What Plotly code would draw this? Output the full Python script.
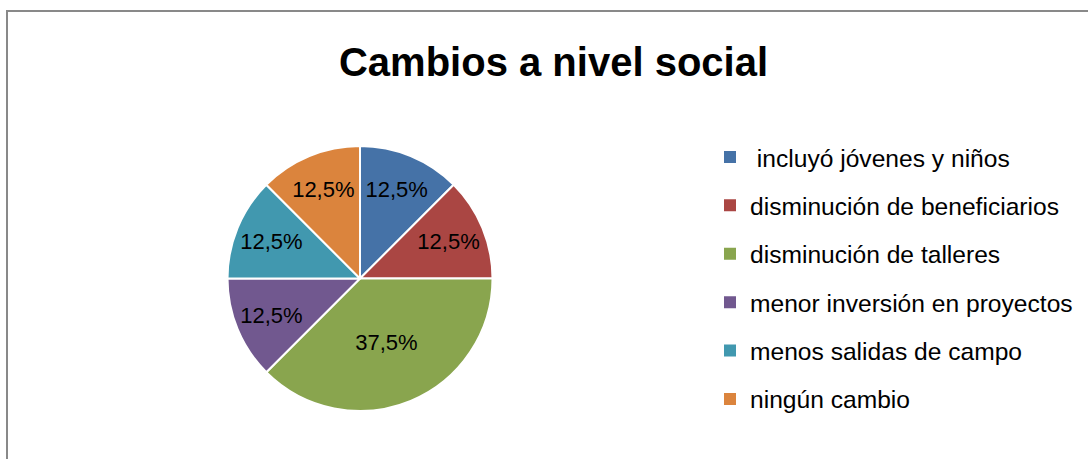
import plotly.graph_objects as go

categories = [" incluyó jóvenes y niños", "disminución de beneficiarios", "disminución de talleres",
              "menor inversión en proyectos", "menos salidas de campo", "ningún cambio"]
values = [12.5, 12.5, 37.5, 12.5, 12.5, 12.5]
colors = ["#4572A7", "#AA4643", "#89A54E", "#71588F", "#4198AF", "#DB843D"]
title_text = "Cambios a nivel social"

W, H = 1088, 459
FONT = "Liberation Sans, Arial, sans-serif"

fig = go.Figure()
fig.add_trace(go.Pie(
    labels=categories, values=values, sort=False, direction="clockwise", rotation=0,
    marker=dict(colors=colors, line=dict(color="white", width=2)),
    texttemplate="%{percent:.1%}", textposition="inside", insidetextorientation="horizontal",
    textfont=dict(family=FONT, size=22, color="black"),
    showlegend=False, hoverinfo="label+percent",
    domain=dict(x=[227 / W, 493 / W], y=[48 / H, 313 / H]),
))

for i, (cat, col) in enumerate(zip(categories, colors)):
    fig.add_trace(go.Scatter(
        x=[None], y=[None], mode="markers", name=cat, legendgroup="g%d" % i,
        marker=dict(symbol="square", size=12, color=col), showlegend=True,
    ))

fig.update_layout(
    width=W, height=H, margin=dict(l=0, r=0, t=0, b=0),
    paper_bgcolor="white", plot_bgcolor="white",
    separators=",.",
    title=dict(text="<b>%s</b>" % title_text, x=553.5 / W, xanchor="center",
               y=1 - 62 / H, yanchor="middle",
               font=dict(family=FONT, size=40, color="black")),
    xaxis=dict(visible=False), yaxis=dict(visible=False),
    legend=dict(x=710 / W, xanchor="left", y=1 - 278 / H, yanchor="middle",
                font=dict(family=FONT, size=24.6, color="black"),
                tracegroupgap=13.4, itemsizing="trace", bgcolor="rgba(0,0,0,0)"),
    shapes=[dict(type="rect", xref="paper", yref="paper",
                 x0=7 / W, x1=1.2, y0=-0.2, y1=1 - 11 / H,
                 line=dict(color="#898989", width=2), layer="above")],
)

fig.write_html("out.html", config={"displayModeBar": False},
               post_script="document.body.style.margin='0';")
